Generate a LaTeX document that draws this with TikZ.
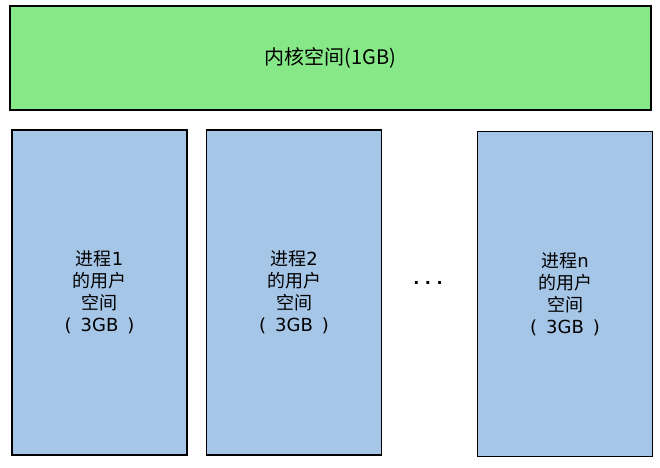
\documentclass[tikz,border=0pt]{standalone}
\usepackage{fontspec}
\setmainfont{DejaVu Sans}
\newfontfamily\cjk{Noto Sans CJK SC}
\usepackage{tikz}
\usepackage{xcolor}
\definecolor{Kernelgreen}{HTML}{86E886}
\definecolor{Userblue}{HTML}{A6C6E8}
\usetikzlibrary{positioning}
\tikzstyle{space} = [
    draw=black,
    line width=1.8pt,
    align=center,
    inner sep=0pt
]
\tikzstyle{userspace} = [
    space,
    fill=Userblue,
    font=\fontsize{18}{22}\selectfont,
    minimum width=175pt,
    minimum height=325pt
]
\newcommand{\gbtext}{(\hspace{0.5em}3GB\hspace{0.5em})}

\begin{document}
\begin{tikzpicture}[x=1pt,y=-1pt]
    \useasboundingbox (0,0) rectangle (660,467);
    % Kernel space
    \node[space, fill=Kernelgreen, font=\fontsize{20}{24}\selectfont\cjk,
        minimum width=641pt, minimum height=104pt] (kernel) at (330.5,58) {内核空间(1GB)};
    % User spaces
    \node[userspace] (proc1) at (99.5,292.5) {{\cjk 进程}1\\{\cjk 的用户}\\{\cjk 空间}\\\gbtext};
    \node[userspace] (proc2) at (294,292.5) {{\cjk 进程}2\\{\cjk 的用户}\\{\cjk 空间}\\\gbtext};
    \node[userspace] (procn) at (565,294) {{\cjk 进程}n\\{\cjk 的用户}\\{\cjk 空间}\\\gbtext};
    % Dots
    \node[font=\fontsize{16}{16}\selectfont\bfseries, inner sep=0pt] (dots) at (428,283) {.\ .\ .};
\end{tikzpicture}
\end{document}
